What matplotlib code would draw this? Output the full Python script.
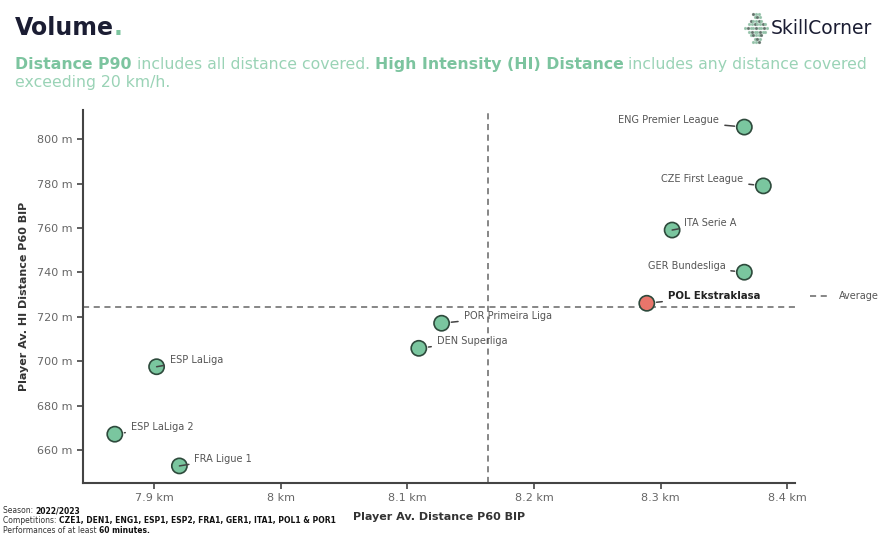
import matplotlib.pyplot as plt
import numpy as np
from matplotlib.ticker import FuncFormatter

# league values
leagues = ['ENG Premier League', 'CZE First League', 'ITA Serie A', 'GER Bundesliga',
           'POL Ekstraklasa', 'POR Primeira Liga', 'DEN Superliga', 'ESP LaLiga',
           'ESP LaLiga 2', 'FRA Ligue 1']
distance_km = [8.366, 8.381, 8.309, 8.366, 8.289, 8.127, 8.109, 7.902, 7.869, 7.920]
hi_distance_m = [805.5, 779.0, 759.1, 740.1, 726.1, 717.1, 705.8, 697.5, 667.1, 652.8]
avg_distance_km = 8.164
avg_hi_m = 724.6
highlight = 'POL Ekstraklasa'

x_ticks = [7.9, 8.0, 8.1, 8.2, 8.3, 8.4]
y_ticks = [660, 680, 700, 720, 740, 760, 780, 800]

# label offsets in pixels (dx, dy) and alignment
label_pos = {
    'ENG Premier League': (-25, 7, 'right'),
    'CZE First League': (-20, 7, 'right'),
    'ITA Serie A': (12, 7, 'left'),
    'GER Bundesliga': (-19, 6, 'right'),
    'POL Ekstraklasa': (21, 7, 'left'),
    'POR Primeira Liga': (22, 7, 'left'),
    'DEN Superliga': (18, 7, 'left'),
    'ESP LaLiga': (13, 7, 'left'),
    'ESP LaLiga 2': (16, 7, 'left'),
    'FRA Ligue 1': (15, 7, 'left'),
}

W, H = 880, 540
GREEN = '#7ac69f'
RED = '#e8756b'
EDGE = '#2e4a3c'
TEXT_GREEN = '#9ad3b6'
TEXT_GREEN_B = '#7cc49f'
DARK = '#1b1d33'

plt.rcParams['font.family'] = ['DejaVu Sans']

fig = plt.figure(figsize=(W / 100, H / 100), dpi=100)
fig.patch.set_facecolor('white')


def fx(px):
    return px / W


def fy(py):
    return 1 - py / H


ax = fig.add_axes([fx(83), fy(483), fx(795 - 83), (483 - 110) / H])

colors = [RED if l == highlight else GREEN for l in leagues]
ax.scatter(distance_km, hi_distance_m, s=120, c=colors, edgecolors=EDGE,
           linewidths=1.2, zorder=5)

line_avg = ax.axhline(avg_hi_m, color='#666666', linestyle='--', linewidth=1.1,
                      dashes=(4, 3), zorder=1, label='Average')
ax.axvline(avg_distance_km, color='#666666', linestyle='--', linewidth=1.1,
           dashes=(4, 3), zorder=1)

for name, x, y in zip(leagues, distance_km, hi_distance_m):
    dx, dy, ha = label_pos[name]
    bold = name == highlight
    ax.annotate(
        name, (x, y), xytext=(dx, dy), textcoords='offset pixels',
        ha=ha, va='center', fontsize=7 if not bold else 7.3,
        fontweight='bold' if bold else 'normal',
        color='#222222' if bold else '#555555',
        arrowprops=dict(arrowstyle='-', color='#444444', lw=1.1,
                        shrinkA=2, shrinkB=7),
        zorder=6,
    )

ax.set_xlim(7.8439, 8.406)
ax.set_ylim(645.1, 813.2)
ax.set_xticks(x_ticks)
ax.set_yticks(y_ticks)
ax.xaxis.set_major_formatter(FuncFormatter(lambda v, p: f'{v:g} km'))
ax.yaxis.set_major_formatter(FuncFormatter(lambda v, p: f'{v:g} m'))
ax.tick_params(axis='both', labelsize=8, labelcolor='#666666', color='#444444',
               length=4, width=1.2)

for side in ['top', 'right']:
    ax.spines[side].set_visible(False)
for side in ['left', 'bottom']:
    ax.spines[side].set_color('#444444')
    ax.spines[side].set_linewidth(1.5)

ax.set_xlabel('Player Av. Distance P60 BIP', fontsize=8, fontweight='bold',
              color='#333333', labelpad=6)
ax.set_ylabel('Player Av. HI Distance P60 BIP', fontsize=8, fontweight='bold',
              color='#333333', labelpad=6)

ax.legend(handles=[line_avg], loc='center left', frameon=False, fontsize=7,
          labelcolor='#555555', handlelength=2.2, borderaxespad=0,
          bbox_to_anchor=(fx(806), fy(296)), bbox_transform=fig.transFigure)

# title
renderer = fig.canvas.get_renderer()
t = fig.text(fx(15), fy(28), 'Volume', fontsize=17, fontweight='bold', color=DARK,
             va='center', ha='left')
bb = t.get_window_extent(renderer)
fig.text(bb.x1 / W, fy(28), '.', fontsize=17, fontweight='bold', color=TEXT_GREEN_B,
         va='center', ha='left')


def write_runs(runs, x0, y0, size):
    x = x0
    for txt, bold, col in runs:
        tt = fig.text(x / W, fy(y0), txt, fontsize=size,
                      fontweight='bold' if bold else 'normal', color=col,
                      va='baseline', ha='left')
        x = tt.get_window_extent(renderer).x1


write_runs([('Distance P90', True, TEXT_GREEN_B),
            (' includes all distance covered. ', False, TEXT_GREEN),
            ('High Intensity (HI) Distance', True, TEXT_GREEN_B),
            (' includes any distance covered', False, TEXT_GREEN)], 15, 69, 11.3)
write_runs([('exceeding 20 km/h.', False, TEXT_GREEN)], 15, 87, 11.3)

# logo
lax = fig.add_axes([fx(744), fy(44), fx(24), 32 / H])
lax.set_axis_off()
lax.set_xlim(-1, 1)
lax.set_ylim(-1, 1)
for i in range(-4, 5):
    for j in range(-4, 5):
        px, py = i * 0.22, j * 0.22
        if abs(px) + abs(py) * 0.8 <= 0.95:
            lax.plot(px + 0.11 * (j % 2), py, 'o', ms=1.3,
                     color='#8fbfa5' if (i + j) % 3 else '#5a6b63', alpha=0.8)
fig.text(fx(771), fy(28), 'SkillCorner', fontsize=13.5, color=DARK, va='center',
         ha='left')

# footer
foot = [('Season: ', '2022/2023', 513),
        ('Competitions: ', 'CZE1, DEN1, ENG1, ESP1, ESP2, FRA1, GER1, ITA1, POL1 & POR1', 523),
        ('Performances of at least ', '60 minutes.', 533)]
for pre, bold_txt, yb in foot:
    tp = fig.text(fx(3), fy(yb), pre, fontsize=5.5, color='#333333', ha='left',
                  va='baseline')
    xe = tp.get_window_extent(renderer).x1
    fig.text(xe / W, fy(yb), bold_txt, fontsize=5.5, color='#111111',
             fontweight='bold', ha='left', va='baseline')

fig.savefig('out.png', dpi=100, facecolor='white')
